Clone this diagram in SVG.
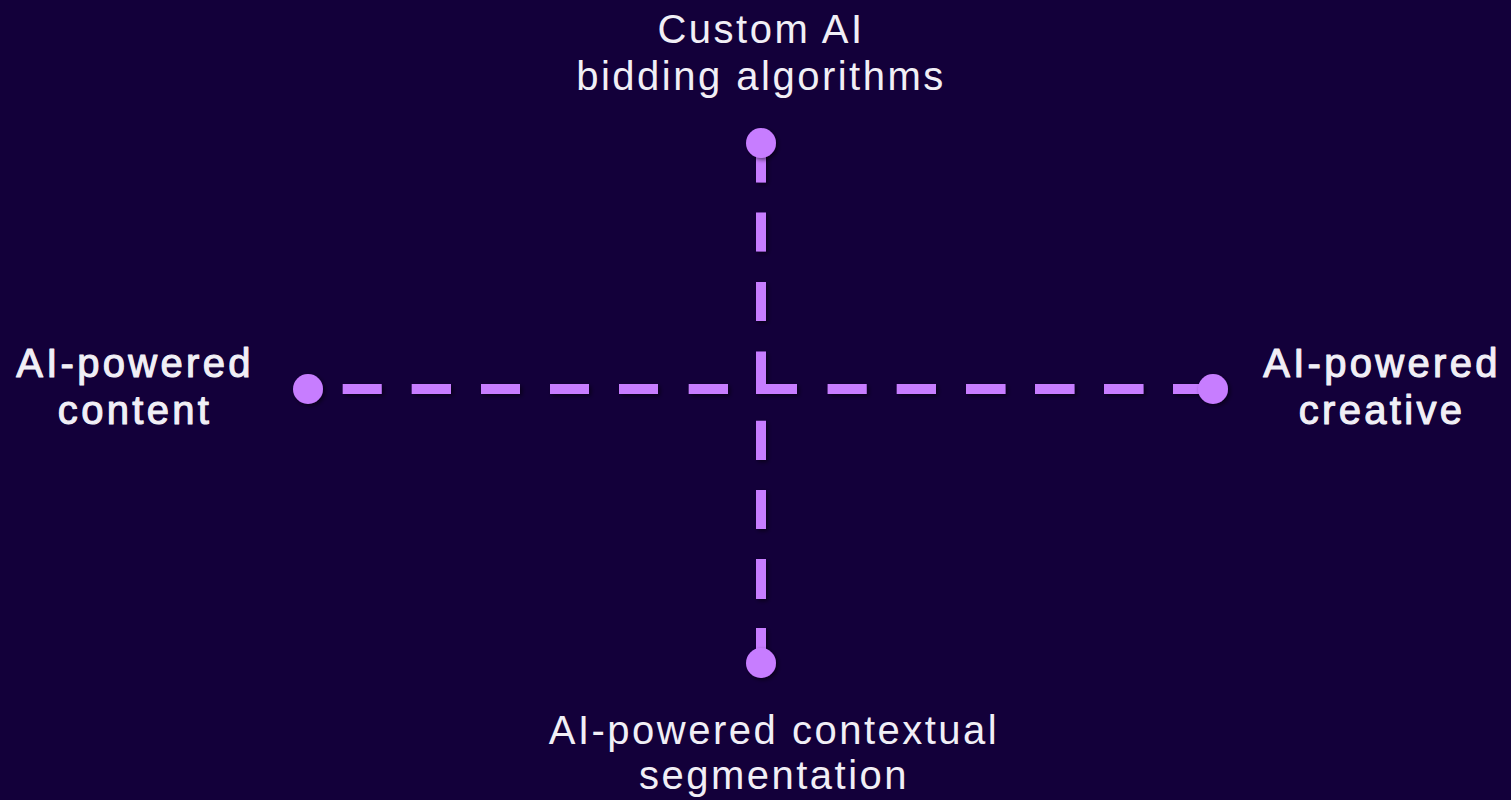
<svg xmlns="http://www.w3.org/2000/svg" width="1511" height="800" viewBox="0 0 1511 800">
  <defs>
    <filter id="shadow" filterUnits="userSpaceOnUse" x="0" y="0" width="1511" height="800">
      <feDropShadow dx="2" dy="2" stdDeviation="2" flood-color="#000000" flood-opacity="0.55"/>
    </filter>
  </defs>
  <style>
    .bg { fill: #13003a; }
    .conn { stroke: #c77dff; stroke-width: 10; fill: none; stroke-linecap: butt; }
    .dot { fill: #c77dff; }
    .label { fill: #f1eff6; font-family: "Liberation Sans", Arial, sans-serif; font-size: 40px; text-anchor: middle; letter-spacing: 2.5px; font-weight: 400; }
    .medium { stroke: #f1eff6; stroke-width: 1.1px; stroke-linejoin: round; letter-spacing: 3.3px; }
  </style>
  <rect class="bg" x="0" y="0" width="1511" height="800"/>

  <g id="connectors" filter="url(#shadow)">
    <path class="conn" d="M761,143 V182.5 M761,212.6 V251.6 M761,282 V321 M761,351.6 V394"/>
    <path class="conn" d="M756,389 H797 M827.6,389 H866.7 M896.7,389 H936 M966,389 H1005.5 M1035,389 H1074.5 M1104,389 H1143.5 M1173,389 H1213"/>
    <path class="conn" d="M342.7,389 H381.7 M411.7,389 H451 M481,389 H520 M550,389 H589 M619,389 H658 M688.7,389 H728"/>
    <path class="conn" d="M761,420.7 V460 M761,490 V529 M761,559 V599 M761,628 V663"/>
  </g>

  <g id="node-top">
    <circle class="dot" cx="761" cy="143" r="15" filter="url(#shadow)"/>
    <text class="label" x="761" y="43">Custom AI</text>
    <text class="label" x="761" y="90">bidding algorithms</text>
  </g>

  <g id="node-left">
    <circle class="dot" cx="308" cy="389" r="15" filter="url(#shadow)"/>
    <text class="label medium" x="135" y="377">AI-powered</text>
    <text class="label medium" x="135" y="424">content</text>
  </g>

  <g id="node-right">
    <circle class="dot" cx="1213" cy="389" r="15" filter="url(#shadow)"/>
    <text class="label medium" x="1382" y="377">AI-powered</text>
    <text class="label medium" x="1382" y="424">creative</text>
  </g>

  <g id="node-bottom">
    <circle class="dot" cx="761" cy="663" r="15" filter="url(#shadow)"/>
    <text class="label" x="774" y="744">AI-powered contextual</text>
    <text class="label" x="774" y="789">segmentation</text>
  </g>
</svg>
